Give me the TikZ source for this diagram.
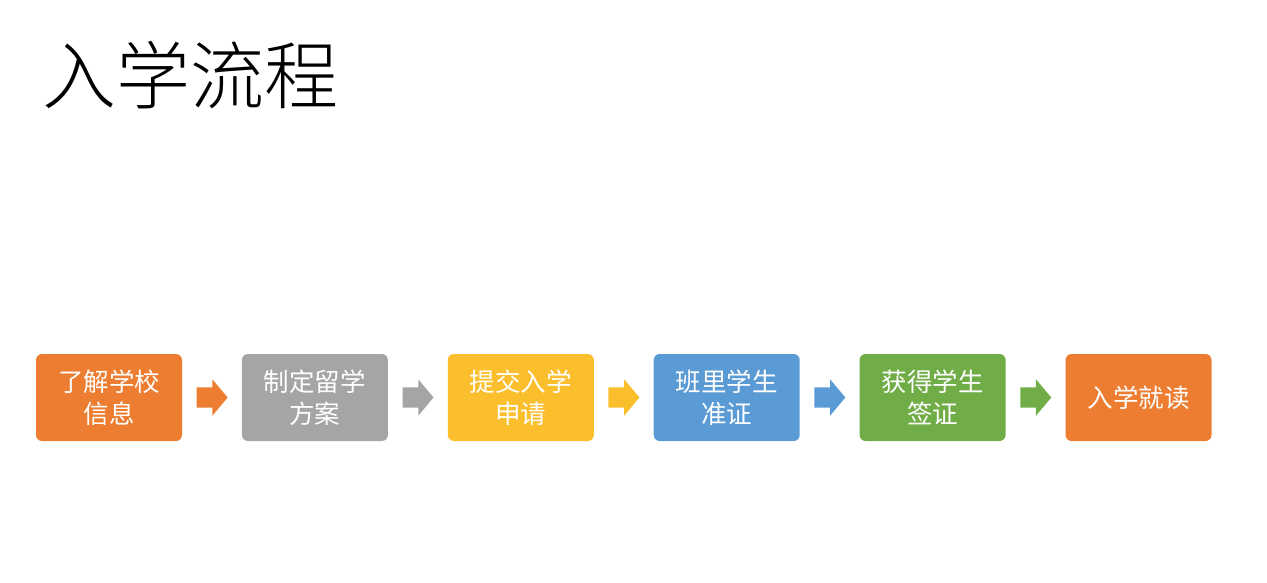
\documentclass[tikz,border=0pt]{standalone}
\usepackage{fontspec}
\setmainfont{Noto Sans CJK SC}
\newfontfamily\titlefont{Noto Sans CJK SC Light}
\usetikzlibrary{positioning,shapes.arrows,calc}
\definecolor{stepOrange}{HTML}{ED7D31}
\definecolor{stepGray}{HTML}{A5A5A5}
\definecolor{stepGold}{HTML}{FBBF2D}
\definecolor{stepBlue}{HTML}{5B9BD5}
\definecolor{stepGreen}{HTML}{70AD47}
\tikzset{
stepbox/.style={rounded corners=6pt,minimum width=146pt,minimum height=87pt,align=center,text=white,font=\fontsize{25.5}{32}\selectfont,inner sep=0pt},
blockarrow/.style={single arrow,anchor=tail,minimum height=31pt,minimum width=36pt,single arrow head extend=8pt,single arrow tip angle=100,inner xsep=0pt,inner ysep=10pt}
}
\begin{document}
\begin{tikzpicture}[x=1pt,y=1pt,node distance=59.5pt]
\useasboundingbox (0,0) rectangle (1267,-583);
\node[anchor=west,font=\titlefont\fontsize{74}{80}\selectfont,inner sep=0pt](title) at (42,-75){入学流程};
\node[stepbox,fill=stepOrange](s1) at (109,-397.5){了解学校\\信息};
\node[stepbox,fill=stepGray,right=of s1](s2){制定留学\\方案};
\node[stepbox,fill=stepGold,right=of s2](s3){提交入学\\申请};
\node[stepbox,fill=stepBlue,right=of s3](s4){班里学生\\准证};
\node[stepbox,fill=stepGreen,right=of s4](s5){获得学生\\签证};
\node[stepbox,fill=stepOrange,right=of s5](s6){入学就读};
\node[blockarrow,fill=stepOrange] (a1) at ($(s1.east)!.5!(s2.west)+(-15.5,0)$){};
\node[blockarrow,fill=stepGray] (a2) at ($(s2.east)!.5!(s3.west)+(-15.5,0)$){};
\node[blockarrow,fill=stepGold] (a3) at ($(s3.east)!.5!(s4.west)+(-15.5,0)$){};
\node[blockarrow,fill=stepBlue] (a4) at ($(s4.east)!.5!(s5.west)+(-15.5,0)$){};
\node[blockarrow,fill=stepGreen] (a5) at ($(s5.east)!.5!(s6.west)+(-15.5,0)$){};
\end{tikzpicture}
\end{document}
